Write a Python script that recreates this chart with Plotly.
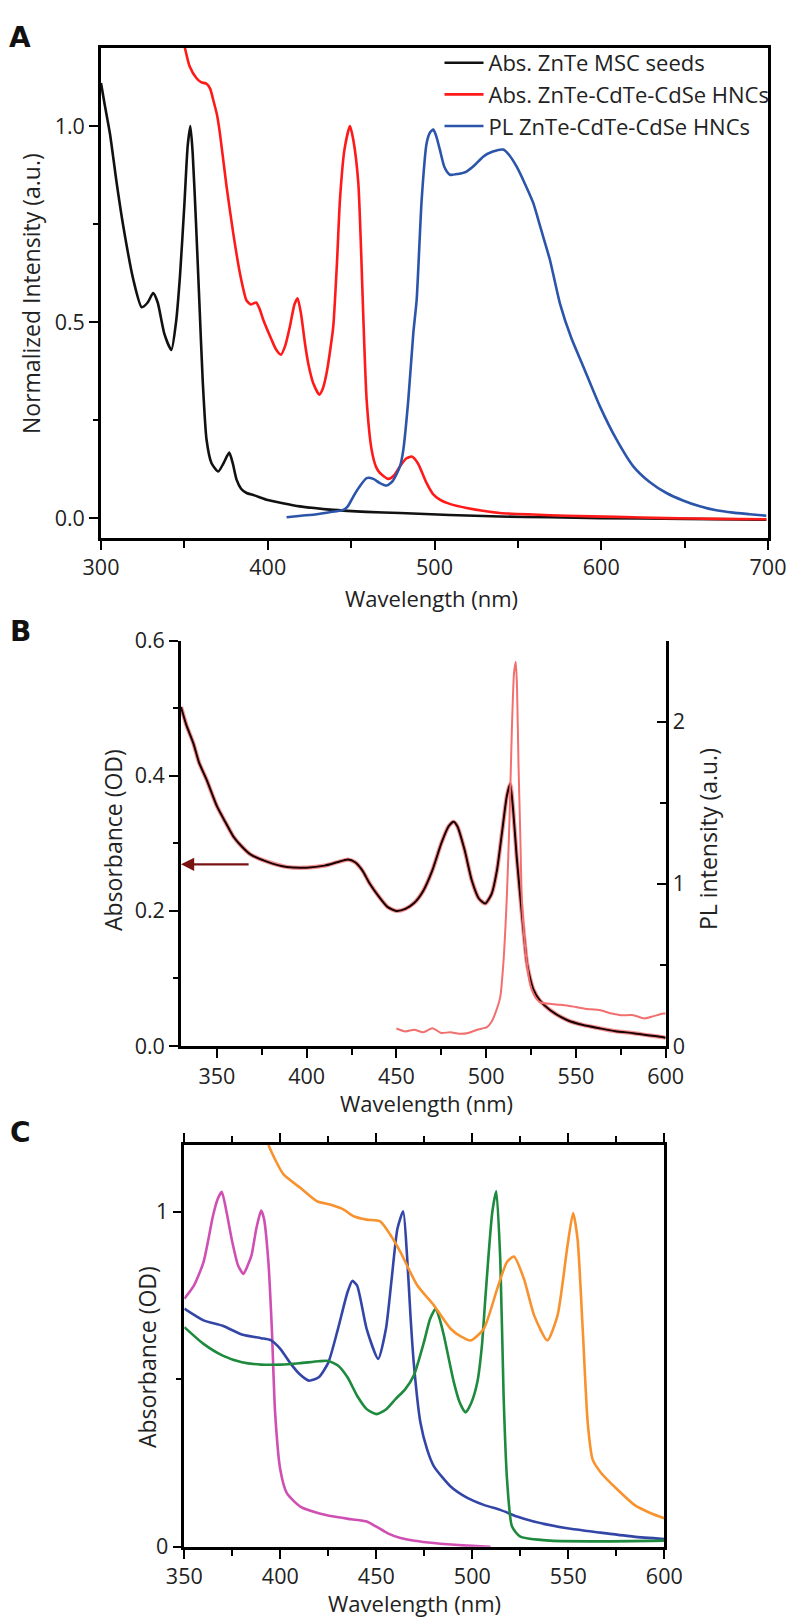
import plotly.graph_objects as go

# page body has an 8px margin; figure fills the rest of the 797x1617 window
OFF = 8
W, H = 797 - OFF, 1617 - OFF
FONT = "Open Sans"

# ---------------- Panel A data ----------------
a_seed_nm = [300, 302, 305.4, 309.4, 313.4, 319.4, 324.4, 328, 331.3, 334, 338, 342.2, 345, 347.4,
             350, 352, 353.6, 355, 357, 359, 361, 363.3, 366.3, 370.3, 373.5, 376.9, 379, 381.3,
             384, 387.3, 392, 399.3, 409, 419.3, 439.3, 459, 479.3, 509, 539.2, 569, 599.2, 650, 699]
a_seed_val = [1.11, 1.06, 0.98, 0.855, 0.744, 0.608, 0.538, 0.55, 0.574, 0.55, 0.47, 0.429, 0.5, 0.62,
              0.8, 0.95, 1.0, 0.93, 0.75, 0.55, 0.35, 0.2, 0.14, 0.119, 0.14, 0.167, 0.14, 0.098,
              0.075, 0.064, 0.058, 0.047, 0.038, 0.03, 0.021, 0.016, 0.013, 0.008, 0.004, 0.002, 0.0, -0.002, -0.004]

a_hnc_nm = [350.3, 353.2, 357.3, 360, 363.3, 365.5, 367.3, 369.5, 371.3, 375.3, 379.3, 383.3, 387.3, 390,
            393, 395, 397.3, 402.3, 405, 407.9, 410.5, 413.3, 416, 417.9, 420, 422.3, 424.5, 427.3,
            430.9, 433, 435.3, 437.5, 439.3, 441.5, 443.3, 446, 449.3, 451.5, 454.3, 456, 457.3, 459.3,
            462.3, 465, 467.3, 472.3, 476, 479.3, 483, 486.3, 490, 495.3, 499, 503.2, 510, 519.2,
            539.2, 559, 579.2, 609, 639.1, 669, 699]
a_hnc_val = [1.2, 1.152, 1.122, 1.112, 1.108, 1.095, 1.067, 1.03, 0.982, 0.846, 0.727, 0.625, 0.555, 0.545,
             0.55, 0.535, 0.506, 0.455, 0.43, 0.417, 0.44, 0.489, 0.545, 0.561, 0.52, 0.446, 0.39, 0.344,
             0.315, 0.33, 0.37, 0.43, 0.489, 0.65, 0.812, 0.94, 1.0, 0.96, 0.855, 0.68, 0.514, 0.302,
             0.174, 0.13, 0.115, 0.1, 0.11, 0.132, 0.152, 0.157, 0.14, 0.089, 0.062, 0.047, 0.035, 0.026,
             0.013, 0.009, 0.006, 0.003, 0.0, -0.002, -0.003]

a_pl_nm = [411.3, 420, 429.3, 437, 445.3, 448, 451.3, 455, 459.3, 463.3, 467, 471.3, 475, 479.3, 481.3,
           484.3, 487.3, 489.3, 492.3, 495.3, 497.5, 499.3, 501, 503.2, 506, 509.2, 514, 519.2, 524,
           529.2, 535, 541.2, 545, 549.2, 554, 559.2, 564, 569.2, 575.2, 582, 589.2, 599.2, 609.2,
           619.2, 629, 639.1, 649, 659.1, 669, 679.1, 689, 699]
a_pl_val = [0.002, 0.006, 0.01, 0.015, 0.021, 0.03, 0.055, 0.08, 0.102, 0.1, 0.09, 0.083, 0.095, 0.132, 0.174,
            0.302, 0.472, 0.557, 0.812, 0.957, 0.985, 0.991, 0.975, 0.94, 0.895, 0.876, 0.878, 0.884, 0.9,
            0.922, 0.935, 0.94, 0.925, 0.897, 0.855, 0.804, 0.735, 0.659, 0.548, 0.46, 0.387, 0.285, 0.2,
            0.132, 0.092, 0.064, 0.045, 0.03, 0.02, 0.014, 0.01, 0.006]

a_names = ["Abs. ZnTe MSC seeds", "Abs. ZnTe-CdTe-CdSe HNCs", "PL ZnTe-CdTe-CdSe HNCs"]

# ---------------- Panel B data ----------------
b_abs_nm = [330, 333, 336.9, 340, 344.3, 350, 355, 359.2, 364, 368.5, 377.8, 389, 400, 410, 417, 423,
            427, 431, 435, 440, 445, 450, 455, 460, 465, 470, 475, 479, 481.8, 484, 488, 492, 496,
            499.5, 503, 506, 509, 511.5, 513.4, 515, 517, 519, 521, 522.7, 524.5, 526.4, 530, 535.7,
            545, 554, 563.6, 572, 582, 590, 598.7, 600]
b_abs_val = [0.502, 0.475, 0.448, 0.42, 0.394, 0.355, 0.33, 0.31, 0.295, 0.284, 0.273, 0.265, 0.264, 0.267,
             0.272, 0.276, 0.272, 0.26, 0.241, 0.222, 0.206, 0.2, 0.203, 0.212, 0.23, 0.26, 0.3, 0.325,
             0.332, 0.325, 0.29, 0.245, 0.218, 0.211, 0.225, 0.26, 0.32, 0.37, 0.388, 0.35, 0.28, 0.221,
             0.165, 0.123, 0.1, 0.083, 0.067, 0.053, 0.0385, 0.031, 0.026, 0.022, 0.019, 0.016, 0.013, 0.012]

b_pl_nm = [450, 455, 460, 465, 470, 475, 480, 485, 490, 495, 500.4, 503, 505, 507.8, 509.5, 511.5, 513,
           514.3, 515.5, 516.5, 517.2, 518, 519, 519.8, 521, 522.7, 524.5, 526.4, 528, 530, 535, 540,
           545, 550, 555, 563.6, 570, 575, 582, 588, 592, 598.7, 600]
b_pl_val = [0.108, 0.09, 0.1, 0.085, 0.11, 0.08, 0.085, 0.075, 0.08, 0.1, 0.116, 0.15, 0.2, 0.3, 0.5, 0.92,
            1.4, 1.95, 2.3, 2.37, 2.2, 1.74, 1.3, 0.92, 0.7, 0.51, 0.38, 0.32, 0.29, 0.27, 0.26, 0.255,
            0.25, 0.24, 0.23, 0.22, 0.2, 0.19, 0.19, 0.17, 0.18, 0.2, 0.2]

b_arrow_tail = (368.5, 0.269)
b_arrow_head = (330, 0.269)

# ---------------- Panel C data ----------------
c_mag_nm = [350, 355, 360, 365, 367.5, 369.5, 372, 375, 378, 380.8, 383, 385, 387.5, 390, 391.5, 393.8,
            395.6, 397.3, 400, 403.4, 410.4, 420, 427.8, 437, 445, 450, 456, 462.6, 470, 480, 495, 509.5]
c_mag_val = [0.741, 0.78, 0.85, 0.99, 1.04, 1.06, 1.0, 0.91, 0.84, 0.815, 0.84, 0.87, 0.95, 1.004, 0.98, 0.85,
             0.65, 0.40, 0.23, 0.16, 0.12, 0.1, 0.09, 0.082, 0.075, 0.06, 0.04, 0.026, 0.018, 0.011, 0.004, 0.0]

c_blue_nm = [350, 360, 370, 380, 390, 395, 400, 405, 410, 415, 420, 425, 430, 435, 437.5, 440, 445, 451,
             455, 458, 461, 464, 466, 467.8, 469.5, 473, 476.5, 480, 488.7, 497.4, 506, 514.6, 523.3,
             532, 549.4, 566.8, 584, 600]
c_blue_val = [0.711, 0.676, 0.66, 0.634, 0.623, 0.617, 0.591, 0.55, 0.516, 0.496, 0.506, 0.55, 0.65, 0.76,
              0.794, 0.78, 0.65, 0.561, 0.65, 0.8, 0.95, 1.002, 0.87, 0.69, 0.55, 0.37, 0.29, 0.24, 0.18,
              0.146, 0.125, 0.11, 0.09, 0.075, 0.055, 0.042, 0.03, 0.023]

c_green_nm = [350, 360, 370, 380, 390, 400, 410, 420, 425, 430, 435, 440, 445, 450, 455, 460, 465, 469.5,
              474.8, 478, 480.9, 483, 485.2, 490.4, 493.5, 496.5, 499.5, 502.6, 505, 506.9, 510.4, 512.5,
              514.6, 516.3, 518.1, 520.7, 525, 540.6, 566.8, 600]
c_green_val = [0.656, 0.606, 0.571, 0.551, 0.544, 0.544, 0.548, 0.554, 0.555, 0.541, 0.506, 0.451, 0.411,
               0.396, 0.41, 0.441, 0.47, 0.511, 0.611, 0.68, 0.711, 0.68, 0.631, 0.491, 0.43, 0.401, 0.43,
               0.491, 0.6, 0.751, 0.999, 1.062, 0.852, 0.451, 0.2, 0.06, 0.03, 0.018, 0.016, 0.018]

c_orange_nm = [393.8, 397, 401.7, 410.4, 419.1, 426, 433, 438.2, 445, 452, 457.3, 462.6, 471.3, 480, 488.7,
               494, 499.2, 506, 513, 518, 521.7, 526.9, 532.2, 539.1, 544.4, 549.6, 552.5, 554.8, 557.5,
               560.1, 562.7, 567, 575.7, 584.4, 593, 600]
c_orange_val = [1.2, 1.16, 1.112, 1.072, 1.032, 1.022, 1.007, 0.987, 0.977, 0.972, 0.932, 0.88, 0.781, 0.721,
                0.651, 0.628, 0.616, 0.651, 0.771, 0.85, 0.867, 0.80, 0.691, 0.616, 0.691, 0.90, 0.997,
                0.92, 0.651, 0.371, 0.26, 0.221, 0.17, 0.125, 0.10, 0.085]


def px_x(p):
    return (p - OFF) / W


def px_y(p):
    return 1 - (p - OFF) / H


fig = go.Figure()
SM = 0.6

# Panel A traces
for nm, val, col, name in [(a_seed_nm, a_seed_val, "#111111", a_names[0]),
                           (a_hnc_nm, a_hnc_val, "#ff1a1a", a_names[1]),
                           (a_pl_nm, a_pl_val, "#2b55aa", a_names[2])]:
    fig.add_trace(go.Scatter(x=nm, y=val, mode="lines", name=name, legendgroup=name,
                             line=dict(color=col, width=2.6, shape="spline", smoothing=SM),
                             xaxis="x", yaxis="y"))

# Panel B traces
fig.add_trace(go.Scatter(x=b_abs_nm, y=b_abs_val, mode="lines", showlegend=False,
                         line=dict(color="rgba(240,110,110,0.75)", width=4.2, shape="spline", smoothing=SM),
                         xaxis="x2", yaxis="y2"))
fig.add_trace(go.Scatter(x=b_abs_nm, y=b_abs_val, mode="lines", showlegend=False,
                         line=dict(color="#1a0000", width=2.0, shape="spline", smoothing=SM),
                         xaxis="x2", yaxis="y2"))
fig.add_trace(go.Scatter(x=b_pl_nm, y=b_pl_val, mode="lines", showlegend=False,
                         line=dict(color="#f26f6f", width=2.0, shape="spline", smoothing=SM),
                         xaxis="x2", yaxis="y3"))

# Panel C traces
for nm, val, col in [(c_mag_nm, c_mag_val, "#cf4fb3"),
                     (c_blue_nm, c_blue_val, "#3346a8"),
                     (c_green_nm, c_green_val, "#1d8a3d"),
                     (c_orange_nm, c_orange_val, "#f8922e")]:
    fig.add_trace(go.Scatter(x=nm, y=val, mode="lines", showlegend=False,
                             line=dict(color=col, width=2.6, shape="spline", smoothing=SM),
                             xaxis="x4", yaxis="y4"))

base = dict(showline=True, linecolor="black", linewidth=2.6, ticks="outside", tickcolor="black",
            tickwidth=2, ticklen=9, showgrid=False, zeroline=False, automargin=False,
            tickfont=dict(family=FONT, size=21.5, color="#222"))


def minor(d, side="outside", ln=6):
    return dict(dtick=d, ticks=side, ticklen=ln, tickwidth=2, tickcolor="black", showgrid=False)


fig.update_layout(
    width=W, height=H, margin=dict(l=0, r=0, t=0, b=0, autoexpand=False),
    paper_bgcolor="white", plot_bgcolor="white",
    font=dict(family=FONT, color="#222"),
    showlegend=True,
    legend=dict(x=px_x(439.5), y=px_y(42), xanchor="left", yanchor="top", bgcolor="rgba(0,0,0,0)",
                font=dict(family=FONT, size=22, color="#222"), itemwidth=39, tracegroupgap=0),
    # Panel A
    xaxis=dict(base, domain=[px_x(101), px_x(768)], anchor="y", range=[300, 700], tick0=300, dtick=100,
               minor=minor(50, ln=7), mirror=True),
    yaxis=dict(base, domain=[px_y(537.7), px_y(47.7)], anchor="x", range=[-0.05, 1.2], tick0=0, dtick=0.5,
               tickformat=".1f", minor=minor(0.25, ln=5), mirror=True),
    # Panel B
    xaxis2=dict(base, domain=[px_x(181), px_x(665.7)], anchor="y2", range=[330, 600], tick0=350, dtick=50,
                minor=minor(25, ln=6)),
    yaxis2=dict(base, domain=[px_y(1046), px_y(640.7)], anchor="x2", range=[0, 0.6], tick0=0, dtick=0.2,
                tickformat=".1f", minor=minor(0.1, ln=5)),
    xaxis3=dict(base, overlaying="x2", side="top", anchor="y2", range=[330, 600], tick0=350, dtick=25,
                ticks="inside", ticklen=7, showticklabels=False),
    yaxis3=dict(base, overlaying="y2", side="right", anchor="x2", range=[0, 2.5], tick0=0, dtick=1,
                ticks="inside", minor=minor(0.5, side="inside", ln=6)),
    # Panel C
    xaxis4=dict(base, domain=[px_x(184.3), px_x(664.3)], anchor="y4", range=[350, 600], tick0=350, dtick=50,
                minor=minor(25, ln=6), mirror="ticks"),
    yaxis4=dict(base, domain=[px_y(1546.7), px_y(1145)], anchor="x4", range=[0, 1.2], tick0=0, dtick=1,
                minor=minor(0.5, ln=6), mirror=True),
)

ann = []
lab = dict(family=FONT, size=23, color="#222")
labx = dict(family=FONT, size=22, color="#222")
# panel letters
for letter, cy in [("A", 37), ("B", 631), ("C", 1132)]:
    ann.append(dict(text="<b>%s</b>" % letter, x=px_x(20), y=px_y(cy), xref="paper", yref="paper",
                    showarrow=False, xanchor="center", yanchor="middle",
                    font=dict(family="DejaVu Sans", size=28, color="#111")))
# axis titles
ann += [
    dict(text="Wavelength (nm)", x=px_x(431), y=px_y(598), font=labx),
    dict(text="Normalized Intensity (a.u.)", x=px_x(31), y=px_y(294), textangle=-90, font=lab),
    dict(text="Wavelength (nm)", x=px_x(426), y=px_y(1102.5), font=labx),
    dict(text="Absorbance (OD)", x=px_x(113), y=px_y(840), textangle=-90, font=lab),
    dict(text="PL intensity (a.u.)", x=px_x(708), y=px_y(839), textangle=-90, font=lab),
    dict(text="Absorbance (OD)", x=px_x(147), y=px_y(1357), textangle=-90, font=lab),
    dict(text="Wavelength (nm)", x=px_x(414), y=px_y(1602.5), font=labx),
]
for a in ann[3:]:
    a.update(xref="paper", yref="paper", showarrow=False, xanchor="center", yanchor="middle")
# arrow in panel B
ann.append(dict(text="", x=b_arrow_head[0], y=b_arrow_head[1], ax=b_arrow_tail[0], ay=b_arrow_tail[1],
                xref="x2", yref="y2", axref="x2", ayref="y2", showarrow=True, arrowhead=2,
                arrowsize=1.2, arrowwidth=2.2, arrowcolor="#7a1414"))
fig.update_layout(annotations=ann)

fig.write_html("out.html")
